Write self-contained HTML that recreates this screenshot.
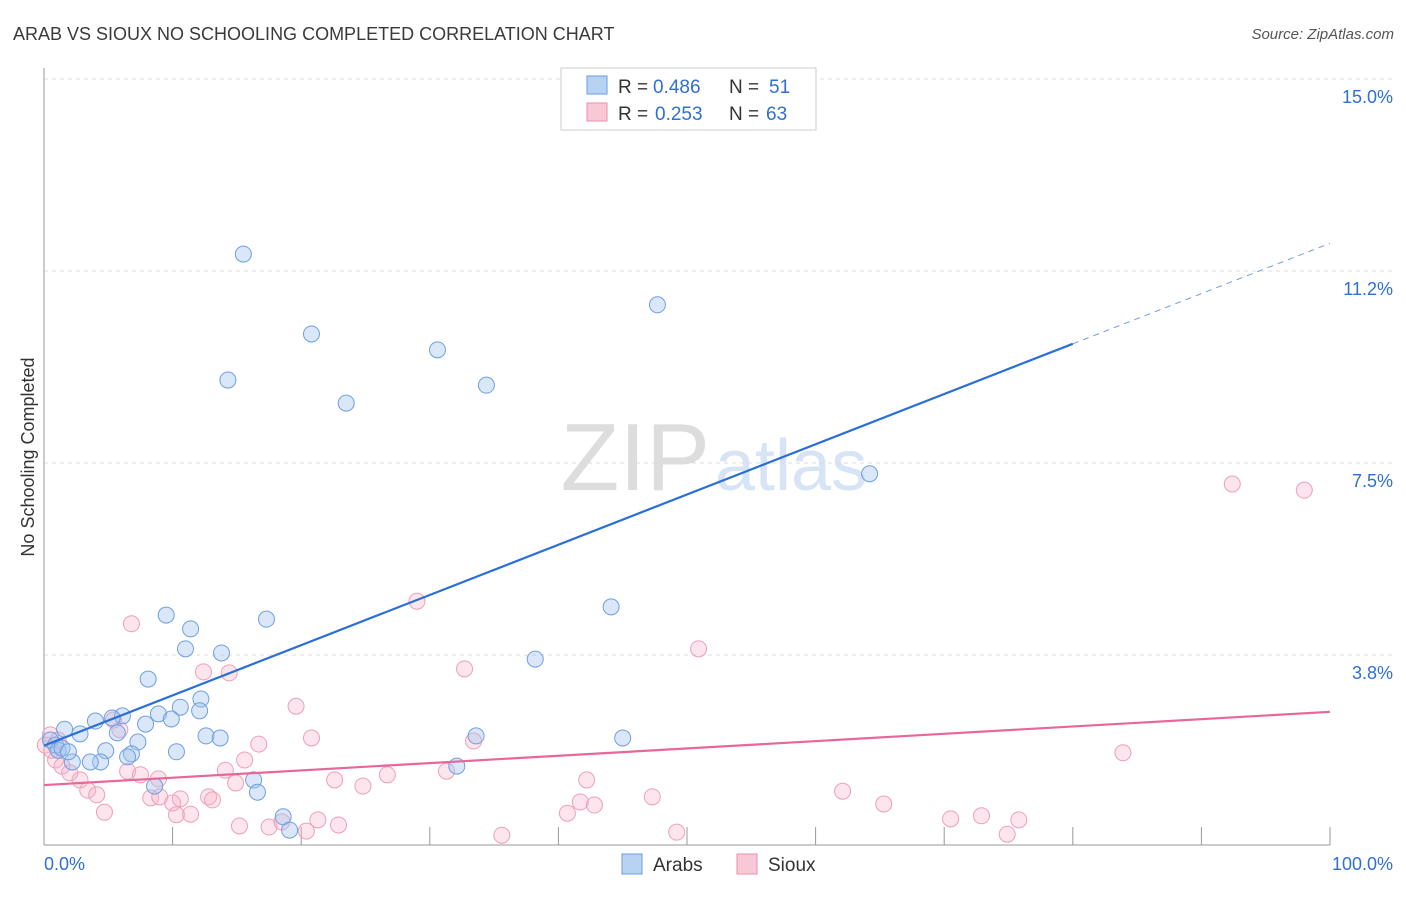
<!DOCTYPE html>
<html><head><meta charset="utf-8"><style>
body{margin:0;background:#fff;font-family:"Liberation Sans",sans-serif;}
svg text{font-family:"Liberation Sans",sans-serif;}
</style></head><body>
<svg id="chart" width="1406" height="892" xmlns="http://www.w3.org/2000/svg">
<text x="13" y="40" font-size="18" fill="#3a3a3a">ARAB VS SIOUX NO SCHOOLING COMPLETED CORRELATION CHART</text>
<text x="1394" y="39" font-size="15" fill="#555" text-anchor="end" font-style="italic">Source: ZipAtlas.com</text>
<text x="710" y="490" font-size="96" fill="#ddd" text-anchor="end" font-family="Liberation Serif">ZIP</text>
<text x="715" y="490" font-size="72" fill="#d6e4f5">atlas</text>
<text transform="translate(34,457) rotate(-90)" font-size="18" fill="#333" text-anchor="middle">No Schooling Completed</text>
<g id="grid"></g><g id="axes"></g><g id="pts"></g><g id="lines"></g>
<g>
<rect x="561" y="68" width="255" height="62" fill="#fff" stroke="#ccc"/>
<rect x="587" y="76" width="20" height="18" fill="#b8d2f3" stroke="#6a9de0"/>
<text x="618" y="93" font-size="19" fill="#333">R =</text>
<text x="653" y="93" font-size="19" fill="#2f6fd6">0.486</text>
<text x="729" y="93" font-size="19" fill="#333">N =</text>
<text x="769" y="93" font-size="19" fill="#2f6fd6">51</text>
<rect x="587" y="103" width="20" height="18" fill="#f9c8d6" stroke="#ea8fab"/>
<text x="618" y="120" font-size="19" fill="#333">R =</text>
<text x="655" y="120" font-size="19" fill="#2f6fd6">0.253</text>
<text x="729" y="120" font-size="19" fill="#333">N =</text>
<text x="766" y="120" font-size="19" fill="#2f6fd6">63</text>
</g>
<g>
<rect x="622" y="854" width="20" height="20" fill="#b8d2f3" stroke="#6a9de0"/>
<text x="653" y="871" font-size="19" fill="#333">Arabs</text>
<rect x="737" y="854" width="20" height="20" fill="#f9c8d6" stroke="#ea8fab"/>
<text x="768" y="871" font-size="19" fill="#333">Sioux</text>
</g>
</svg>
<script>
const yTicks=[3.75,7.5,11.25,15];
const yTickLabels=["3.8%","7.5%","11.2%","15.0%"];
const xTicks=[0,10,20,30,40,50,60,70,80,90,100];
const arabX=[15.5,20.8,14.3,23.5,30.6,34.4,47.7,64.2,44.1,38.2,9.5,17.3,11.4,11.0,13.8,8.1,12.2,10.6,8.9,9.9,12.1,6.1,5.3,4.0,1.6,2.8,5.7,7.9,7.3,12.6,13.7,10.3,6.8,6.5,4.8,4.4,3.6,2.2,33.6,45.0,32.1,8.6,16.3,16.6,18.6,19.1,0.5,0.9,1.1,1.4,1.9];
const arabY=[11.58,10.02,9.12,8.67,9.71,9.02,10.59,7.29,4.69,3.67,4.53,4.45,4.26,3.87,3.79,3.28,2.89,2.73,2.60,2.50,2.66,2.56,2.52,2.46,2.30,2.21,2.23,2.40,2.05,2.17,2.13,1.86,1.82,1.76,1.88,1.66,1.66,1.66,2.17,2.13,1.58,1.19,1.31,1.07,0.59,0.33,2.09,1.99,1.89,1.93,1.86];
const siouxX=[92.4,98.0,29.0,6.8,50.9,32.7,12.4,14.4,19.6,20.8,16.7,33.4,83.9,15.6,5.9,6.5,5.4,7.5,8.9,14.1,14.9,22.6,24.8,26.7,31.3,42.2,2.8,3.4,4.1,8.3,9.0,10.6,10.0,12.8,13.1,4.7,10.3,11.4,41.7,42.8,47.3,62.1,65.3,40.7,15.2,17.5,18.5,20.4,21.3,22.9,35.6,49.2,70.5,72.9,75.8,74.9,0.5,0.9,1.4,2.0,0.1,0.6,1.1];
const siouxY=[7.09,6.97,4.80,4.36,3.87,3.48,3.42,3.40,2.75,2.13,2.01,2.07,1.84,1.70,2.29,1.48,2.48,1.41,1.33,1.50,1.25,1.31,1.19,1.41,1.48,1.31,1.31,1.11,1.02,0.96,0.98,0.94,0.86,0.98,0.92,0.68,0.63,0.64,0.88,0.82,0.98,1.09,0.84,0.66,0.41,0.39,0.49,0.31,0.53,0.43,0.23,0.29,0.55,0.61,0.53,0.25,2.19,1.70,1.58,1.45,1.99,1.89,2.09];
const arabTrend=[1.98,0.0981];
const siouxTrend=[1.21,0.0143];
const NS="http://www.w3.org/2000/svg";
function sx(v){return 44+v*12.86;}
function sy(v){return 847-v*51.2;}
function mk(tag,attrs,parent){const e=document.createElementNS(NS,tag);for(const k in attrs)e.setAttribute(k,attrs[k]);document.getElementById(parent).appendChild(e);return e;}
yTicks.forEach((t,i)=>{
 const l=mk('line',{x1:44,x2:1394,y1:sy(t),y2:sy(t),stroke:'#ddd','stroke-dasharray':'4,4'},'grid');
 
 
 const tx=mk('text',{x:1393,y:sy(t)+24,'font-size':18,fill:'#2f6fd6','text-anchor':'end'},'grid');
 tx.textContent=yTickLabels[i];
 
 
});
const ax=mk('line',{x1:44,x2:44,y1:68,y2:845,stroke:'#999'},'axes');


const bx=mk('line',{x1:44,x2:1330,y1:845,y2:845,stroke:'#999'},'axes');


xTicks.forEach(t=>{
 const l=mk('line',{x1:sx(t),x2:sx(t),y1:827,y2:845,stroke:'#999'},'axes');
 
 
});
const x0=mk('text',{x:44,y:870,'font-size':18,fill:'#2f6fd6'},'axes');x0.textContent='0.0%';


const x1=mk('text',{x:1393,y:870,'font-size':18,fill:'#2f6fd6','text-anchor':'end'},'axes');x1.textContent='100.0%';


siouxX.forEach((v,i)=>{
 const c=mk('circle',{cx:sx(v),cy:sy(siouxY[i]),r:8,fill:'rgba(247,180,200,0.35)',stroke:'#eea0b8','stroke-width':1},'pts');
 
 
});
arabX.forEach((v,i)=>{
 const c=mk('circle',{cx:sx(v),cy:sy(arabY[i]),r:8,fill:'rgba(160,195,240,0.4)',stroke:'#6f9fe0','stroke-width':1},'pts');
 
 
});
const a1=mk('line',{x1:sx(0),y1:sy(arabTrend[0]),x2:sx(80),y2:sy(arabTrend[0]+arabTrend[1]*80),stroke:'#2a6fd8','stroke-width':2.2},'lines');


const a2=mk('line',{x1:sx(80),y1:sy(arabTrend[0]+arabTrend[1]*80),x2:sx(100),y2:sy(arabTrend[0]+arabTrend[1]*100),stroke:'#6f9fe0','stroke-width':1,'stroke-dasharray':'6,5'},'lines');


const s1=mk('line',{x1:sx(0),y1:sy(siouxTrend[0]),x2:sx(100),y2:sy(siouxTrend[0]+siouxTrend[1]*100),stroke:'#e8679a','stroke-width':2.2},'lines');


</script>
</body></html>
